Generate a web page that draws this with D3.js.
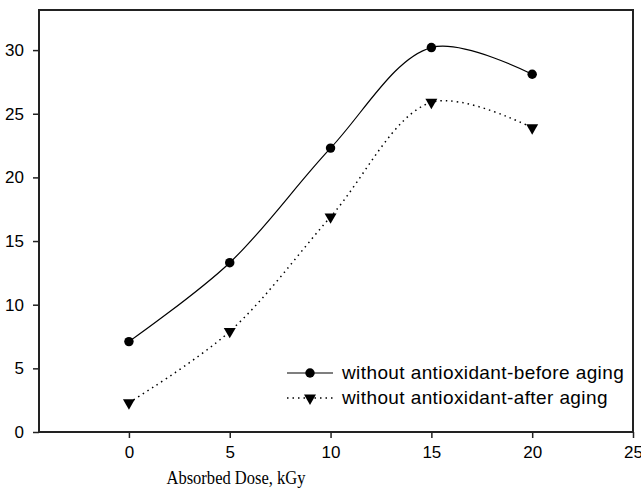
<!DOCTYPE html>
<meta charset="utf-8">
<style>
body { margin: 0; background: #fff; }
.tick text { font: 17px "Liberation Sans", Arial, sans-serif; fill: #000; }
.legend text { font: 19px "Liberation Sans", Arial, sans-serif; fill: #000; letter-spacing: 0.4px; }
.xtitle { font: 19px "Liberation Serif", "Times New Roman", serif; fill: #000; }
</style>
<body>
<svg width="641" height="489"></svg>
<script src="https://cdn.jsdelivr.net/npm/d3@7"></script>
<script>
// data
var doses = [0, 5, 10, 15, 20];
var beforeAging = [7.1, 13.3, 22.3, 30.2, 28.1];
var afterAging = [2.3, 7.9, 16.9, 25.9, 23.9];
var xTicks = [0, 5, 10, 15, 20, 25];
var yTicks = [0, 5, 10, 15, 20, 25, 30];
var seriesNames = ["without antioxidant-before aging", "without antioxidant-after aging"];

var svg = d3.select("svg");
var pl = 39, pr = 633, pt = 10, pb = 432;

var x = d3.scaleLinear().domain([-4.46, 25]).range([pl, pr]);
var y = d3.scaleLinear().domain([0, 33.15]).range([pb, pt]);

// frame
svg.append("rect")
    .attr("x", pl).attr("y", pt)
    .attr("width", pr - pl).attr("height", pb - pt)
    .attr("fill", "none").attr("stroke", "#222").attr("stroke-width", 2);

// axes
var xAxis = svg.append("g")
    .attr("transform", "translate(0," + pb + ")")
    .call(d3.axisBottom(x).tickValues(xTicks).tickSize(6).tickPadding(8));
var yAxis = svg.append("g")
    .attr("transform", "translate(" + pl + ",0)")
    .call(d3.axisLeft(y).tickValues(yTicks).tickSize(6).tickPadding(9));
[xAxis, yAxis].forEach(function(a) {
  a.select(".domain").remove();
  a.selectAll(".tick line").attr("stroke", "#222").attr("stroke-width", 1.5);
});

svg.append("text").attr("class", "xtitle")
    .attr("x", 236).attr("y", 484).attr("text-anchor", "middle")
    .attr("textLength", 139).attr("lengthAdjust", "spacingAndGlyphs")
    .text("Absorbed Dose, kGy");

var line = d3.line()
    .x(function(d, i) { return x(doses[i]); })
    .y(function(d) { return y(d); })
    .curve(d3.curveCatmullRom.alpha(0.5));

svg.append("path").datum(beforeAging)
    .attr("d", line).attr("fill", "none").attr("stroke", "#000").attr("stroke-width", 1.2);
svg.append("path").datum(afterAging)
    .attr("d", line).attr("fill", "none").attr("stroke", "#000").attr("stroke-width", 1.5)
    .attr("stroke-dasharray", "1.5,4");

var circle = d3.symbol().type(d3.symbolCircle).size(70);
var tri = d3.symbol().type(d3.symbolTriangle).size(62);

svg.selectAll(".m1").data(beforeAging).enter().append("path")
    .attr("d", circle)
    .attr("transform", function(d, i) { return "translate(" + x(doses[i]) + "," + y(d) + ")"; });
svg.selectAll(".m2").data(afterAging).enter().append("path")
    .attr("d", tri)
    .attr("transform", function(d, i) { return "translate(" + x(doses[i]) + "," + y(d) + ") rotate(180)"; });

// legend
var lg = svg.append("g").attr("class", "legend");
var rows = [373, 398];
rows.forEach(function(ry, i) {
  lg.append("line").attr("x1", 287).attr("x2", 333).attr("y1", ry).attr("y2", ry)
    .attr("stroke", "#000").attr("stroke-width", i ? 1.5 : 1.2)
    .attr("stroke-dasharray", i ? "1.5,4" : null);
  lg.append("path").attr("d", i ? tri : circle)
    .attr("transform", "translate(310," + ry + ")" + (i ? " rotate(180)" : ""));
  lg.append("text").attr("x", 342).attr("y", ry + 6).text(seriesNames[i]);
});
</script>
</body>
